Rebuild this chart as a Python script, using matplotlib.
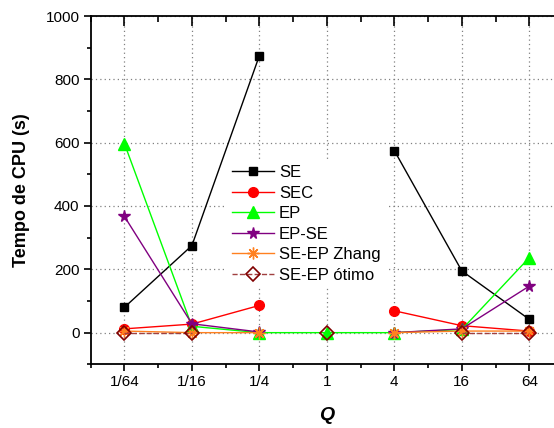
import numpy as np
import matplotlib
matplotlib.use('Agg')
import matplotlib.pyplot as plt

plt.rcParams['font.family'] = ['Liberation Sans', 'DejaVu Sans']

# Q values (categorical, log-spaced)
q_labels = ['1/64', '1/16', '1/4', '1', '4', '16', '64']

nan = np.nan
se = [80, 275, 875, nan, 575, 195, 42]
sec = [12, 27, 86, nan, 69, 22, 5]
ep = [597, 20, 0, 0, 0, 10, 237]
ep_se = [367, 28, 2, nan, 0, 12, 147]
se_ep_zhang = [5, 0, 0, nan, 0, 5, 5]
se_ep_otimo = [0, 0, nan, 0, nan, 0, 0]

fig = plt.figure(figsize=(5.54, 4.28), dpi=100)
ax = fig.add_axes([0.1637, 0.1488, 0.8526, 0.8138])

x = np.arange(len(q_labels))
lw = 1.0

ax.plot(x, se, '-', color='black', lw=lw, marker='s', ms=5.8, label='SE', zorder=3)
ax.plot(x, sec, '-', color='red', lw=lw, marker='o', ms=7, label='SEC', zorder=3)
ax.plot(x, ep, '-', color='#00ff00', lw=lw, marker='^', ms=8, label='EP', zorder=3)
ax.plot(x, ep_se, '-', color='#800080', lw=lw, marker='*', ms=8.5, label='EP-SE', zorder=3)
ax.plot(x, se_ep_zhang, '-', color='#ff8020', lw=lw, marker=(8, 2, 0), ms=8.5,
        mew=1.0, label='SE-EP Zhang', zorder=3)
ax.plot(x, se_ep_otimo, '--', color='#a04040', lw=lw, marker='D', ms=7.5,
        mfc='none', mec='#800000', mew=1.2, label='SE-EP ótimo', zorder=3)

ax.set_xlim(-0.5, 6.5)
ax.set_ylim(-100, 1000)
ax.set_xticks(x)
ax.set_xticklabels(q_labels)
ax.set_xticks(np.arange(-0.5, 7, 1), minor=True)
ax.set_yticks([0, 200, 400, 600, 800, 1000])
ax.set_yticks(np.arange(-100, 1000, 200), minor=True)

ax.spines['right'].set_visible(False)
for s in ['left', 'bottom', 'top']:
    ax.spines[s].set_linewidth(1.3)

ax.tick_params(axis='both', which='major', direction='out', length=5, width=1.2,
               labelsize=11, pad=3)
ax.tick_params(axis='both', which='minor', direction='out', length=3, width=1.2)
ax.tick_params(axis='x', which='both', top=True)

# ticks on top spine point inward
for t in ax.xaxis.get_major_ticks():
    t.tick2line.set_marker(3)
    t.tick2line.set_markersize(7)
for t in ax.xaxis.get_minor_ticks():
    t.tick2line.set_marker(3)
    t.tick2line.set_markersize(4)

ax.grid(True, which='major', linestyle=(0, (1, 2.5)), color='#808080', lw=0.9)
ax.set_axisbelow(True)

ax.set_xlabel('Q', fontsize=14, fontweight='bold', fontstyle='italic', labelpad=13)
ax.set_ylabel('Tempo de CPU (s)', fontsize=13, fontweight='bold', labelpad=11)

leg = ax.legend(loc='center', bbox_to_anchor=(0.553, 0.477), bbox_transform=fig.transFigure,
                fontsize=12, frameon=True, fancybox=False, framealpha=1,
                edgecolor='none', facecolor='white', handlelength=2.5,
                handletextpad=0.3, labelspacing=0.33, borderpad=0.3)
leg.set_zorder(5)

fig.savefig('out.png', dpi=100)
